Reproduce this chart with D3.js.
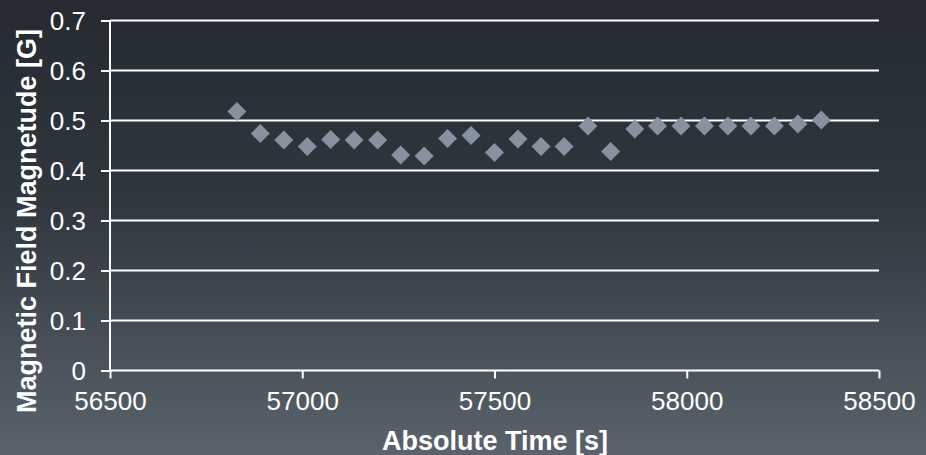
<!DOCTYPE html>
<html>
<head>
<meta charset="utf-8">
<script src="https://cdn.jsdelivr.net/npm/d3@7"></script>
<style>
html,body{margin:0;padding:0;background:#2b3138;}
svg{display:block;}
text{font-family:"Liberation Sans",Arial,sans-serif;fill:#ffffff;}
</style>
</head>
<body>
<svg id="chart" width="926" height="455"></svg>
<script>
const times = [56830, 56891, 56952, 57013, 57074, 57135, 57196, 57256, 57317, 57378, 57439, 57500, 57561, 57621, 57681, 57743, 57802, 57865, 57924, 57985, 58046, 58107, 58167, 58228, 58289, 58350];
const magnitudes = [0.518, 0.474, 0.461, 0.448, 0.462, 0.461, 0.461, 0.431, 0.429, 0.464, 0.470, 0.436, 0.463, 0.448, 0.448, 0.489, 0.438, 0.483, 0.489, 0.489, 0.489, 0.489, 0.489, 0.489, 0.493, 0.501];
const xTicks = [56500, 57000, 57500, 58000, 58500];
const yTicks = [0, 0.1, 0.2, 0.3, 0.4, 0.5, 0.6, 0.7];
const xTitle = "Absolute Time [s]";
const yTitle = "Magnetic Field Magnetude [G]";

const W = 926, H = 455;
const svg = d3.select("#chart");
const defs = svg.append("defs");
const grad = defs.append("linearGradient").attr("id","bg").attr("x1",0).attr("y1",0).attr("x2",0).attr("y2",1);
grad.append("stop").attr("offset","0%").attr("stop-color","#252a31");
grad.append("stop").attr("offset","45%").attr("stop-color","#30373f");
grad.append("stop").attr("offset","100%").attr("stop-color","#5a626c");
svg.append("rect").attr("width",W).attr("height",H).attr("fill","url(#bg)");

const x = d3.scaleLinear().domain([56500, 58500]).range([110, 879]);
const y = d3.scaleLinear().domain([0, 0.7]).range([370.5, 20.5]);

// gridlines
svg.append("g").selectAll("line").data(yTicks.filter(d => d > 0)).join("line")
  .attr("x1", x.range()[0]).attr("x2", x.range()[1])
  .attr("y1", d => y(d)).attr("y2", d => y(d))
  .attr("stroke","#ffffff").attr("stroke-width",2);

// y axis
const yAxis = svg.append("g").attr("transform",`translate(${x.range()[0]},0)`)
  .call(d3.axisLeft(y).tickValues(yTicks).tickFormat(d => d === 0 ? "0" : d3.format(".1f")(d)).tickSize(9).tickPadding(15));
yAxis.select(".domain").attr("stroke","#ffffff").attr("stroke-width",2).attr("d",`M0,${y.range()[0]}V${y.range()[1]}`);
yAxis.selectAll(".tick line").attr("stroke","#ffffff").attr("stroke-width",2);
yAxis.selectAll(".tick text").attr("fill","#ffffff").style("font-size","26px").style("font-family","'Liberation Sans',Arial,sans-serif").attr("dy","0.35em");

// x axis
const xAxis = svg.append("g").attr("transform",`translate(0,${y.range()[0]})`)
  .call(d3.axisBottom(x).tickValues(xTicks).tickFormat(d3.format("d")).tickSize(8).tickPadding(13));
xAxis.select(".domain").attr("stroke","#ffffff").attr("stroke-width",2).attr("d",`M${x.range()[0]},0H${x.range()[1]}`);
xAxis.selectAll(".tick line").attr("stroke","#ffffff").attr("stroke-width",2);
xAxis.selectAll(".tick text").attr("fill","#ffffff").style("font-size","26px").style("font-family","'Liberation Sans',Arial,sans-serif");

// points
const sym = d3.symbol().type(d3.symbolSquare).size(180);
svg.append("g").selectAll("path").data(times.map((t,i)=>({t, v: magnitudes[i]}))).join("path")
  .attr("d", sym)
  .attr("transform", d => `translate(${x(d.t)},${y(d.v)}) rotate(45)`)
  .attr("fill","#8891a0");

// titles
svg.append("text").attr("x",495).attr("y",450).attr("text-anchor","middle")
  .style("font-size","27px").style("font-weight","bold").text(xTitle);
svg.append("text").attr("transform","translate(36,221) rotate(-90)").attr("text-anchor","middle")
  .style("font-size","27px").style("font-weight","bold").text(yTitle);
</script>
</body>
</html>
